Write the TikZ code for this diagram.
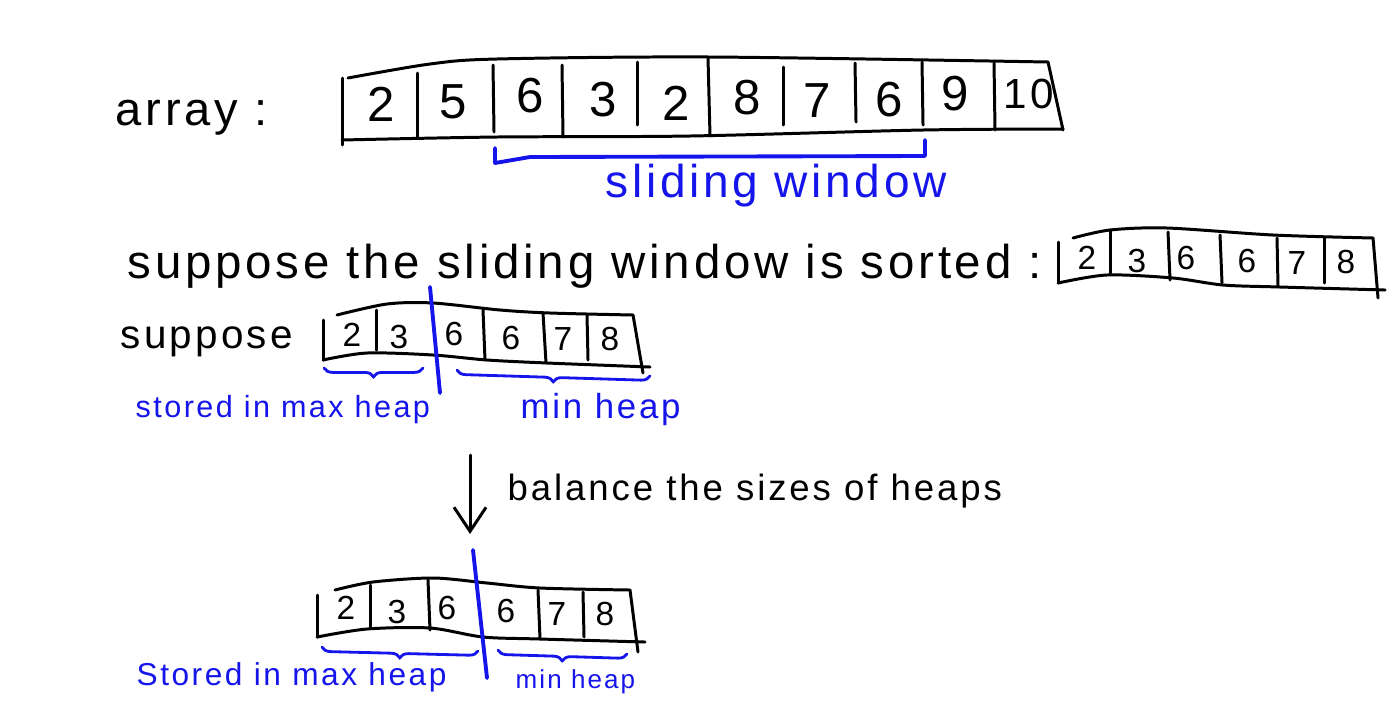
\documentclass[tikz,border=0pt]{standalone}
\usepackage{fontspec}
\setmainfont{Liberation Sans}[LetterSpace=8]
\usetikzlibrary{arrows.meta, decorations.pathreplacing}

\definecolor{penblue}{RGB}{20,20,235}

\tikzset{
  ink/.style={line width=0.85pt, line cap=round, line join=round},
  blueink/.style={penblue, line width=1.1pt, line cap=round, line join=round},
  hand/.style={font=\fontsize{#1}{#1}\selectfont, inner sep=0pt},
  underbrace/.style={penblue, line width=0.8pt, line cap=round, decorate,
    decoration={brace, mirror, amplitude=2.5pt}},
}

\begin{document}
\begin{tikzpicture}[x=0.1mm, y=-0.1mm]
    %\draw[help lines, step=100] (0, 0) grid (1400, 712);
    \useasboundingbox (0, 0) rectangle (1400, 712);

    % the whole array
    \node[hand=13.4, anchor=base west] (arraylabel) at (115, 125) {array :};
    \draw[ink] (342, 78) -- (342, 145);
    \draw[ink] plot[smooth] coordinates {(348, 78) (430, 64) (497, 59) (710, 57) (1048, 62)};
    \draw[ink] (1048, 62) -- (1063, 130);
    \draw[ink] plot[smooth] coordinates {(342, 140) (497, 137) (690, 136) (923, 130) (1063, 129)};
    \draw[ink] (417, 73) -- (417, 138);
    \draw[ink] (493, 65) -- (494, 132);
    \draw[ink] (562, 65) -- (563, 137);
    \draw[ink] (637, 62) -- (637, 125);
    \draw[ink] (708, 58) -- (710, 136);
    \draw[ink] (783, 67) -- (783, 125);
    \draw[ink] (855, 63) -- (856, 122);
    \draw[ink] (922, 62) -- (923, 125);
    \draw[ink] (994, 63) -- (995, 130);

    \node[hand=14] (a1) at (381, 104) {2};
    \node[hand=14] (a2) at (453, 102) {5};
    \node[hand=14] (a3) at (530, 96) {6};
    \node[hand=14] (a4) at (603, 100) {3};
    \node[hand=14] (a5) at (676, 103) {2};
    \node[hand=14] (a6) at (747, 98) {8};
    \node[hand=14] (a7) at (817, 101) {7};
    \node[hand=14] (a8) at (889, 100) {6};
    \node[hand=14] (a9) at (955, 94) {9};
    \node[hand=12] (a10) at (1029, 94) {10};

    \draw[blueink] (495, 148) -- (495, 163) -- (530, 157) -- (925, 156) -- (925, 140);
    \node[hand=13.1, penblue, anchor=base west] (windowlabel) at (605, 197) {sliding window};

    % sorted window
    \node[hand=13.5, anchor=base west] (sortedlabel) at (127, 278) {suppose the sliding window is sorted :};
    \draw[ink] (1058, 242) -- (1058, 283);
    \draw[ink] plot[smooth] coordinates {(1073, 238) (1110, 230) (1167, 228) (1273, 235) (1373, 238)};
    \draw[ink] (1373, 238) -- (1378, 298);
    \draw[ink] plot[smooth] coordinates {(1058, 283) (1107, 275) (1173, 278) (1223, 285) (1280, 287) (1385, 290)};
    \draw[ink] (1110, 230) -- (1110, 273);
    \draw[ink] (1168, 232) -- (1170, 280);
    \draw[ink] (1220, 235) -- (1222, 283);
    \draw[ink] (1277, 238) -- (1278, 287);
    \draw[ink] (1324, 238) -- (1324, 283);

    \node[hand=9.5] (s1) at (1087, 258) {2};
    \node[hand=9.5] (s2) at (1137, 261) {3};
    \node[hand=9.5] (s3) at (1186, 258) {6};
    \node[hand=9.5] (s4) at (1247, 261) {6};
    \node[hand=9.5] (s5) at (1297, 263) {7};
    \node[hand=9.5] (s6) at (1346, 262) {8};

    % first split
    \node[hand=11.5, anchor=base west] (supposelabel) at (120, 348) {suppose};
    \draw[ink] (323, 320) -- (323, 360);
    \draw[ink] plot[smooth] coordinates {(337, 315) (387, 304) (433, 303) (500, 310) (550, 313) (633, 315)};
    \draw[ink] (633, 315) -- (643, 373);
    \draw[ink] plot[smooth] coordinates {(323, 360) (367, 353) (433, 355) (487, 360) (547, 363) (650, 367)};
    \draw[ink] (376, 310) -- (376, 350);
    \draw[ink] (483, 310) -- (485, 360);
    \draw[ink] (543, 313) -- (546, 363);
    \draw[ink] (587, 315) -- (588, 360);
    \draw[blueink] (430, 287) -- (440, 393);

    \node[hand=9.5] (b1) at (352, 335) {2};
    \node[hand=9.5] (b2) at (399, 337) {3};
    \node[hand=9.5] (b3) at (454, 334) {6};
    \node[hand=9.5] (b4) at (511, 338) {6};
    \node[hand=9.5] (b5) at (563, 339) {7};
    \node[hand=9.5] (b6) at (610, 339) {8};

    \draw[underbrace] (324, 368) -- (423, 368);
    \draw[underbrace] (457, 370) -- (650, 376);
    \node[hand=8.7, penblue, anchor=base west] (maxlabel) at (135, 417) {stored in max heap};
    \node[hand=9.9, penblue, anchor=base west] (minlabel) at (520, 418) {min heap};

    % balancing step
    \coordinate (arrtop) at (470, 455);
    \coordinate (arrtip) at (470, 534);
    \draw[ink, -{Straight Barb[length=2.4mm, width=3.2mm]}] (arrtop) -- (arrtip);
    \node[hand=10.4, anchor=base west] (balancelabel) at (507, 500) {balance the sizes of heaps};

    % balanced split
    \draw[ink] (317, 595) -- (317, 637);
    \draw[ink] plot[smooth] coordinates {(335, 590) (373, 582) (433, 578) (487, 583) (540, 588) (630, 590)};
    \draw[ink] (630, 590) -- (638, 652);
    \draw[ink] plot[smooth] coordinates {(317, 637) (367, 629) (430, 628) (483, 637) (540, 639) (645, 642)};
    \draw[ink] (370, 585) -- (370, 627);
    \draw[ink] (428, 580) -- (430, 630);
    \draw[ink] (538, 590) -- (540, 639);
    \draw[ink] (583, 592) -- (584, 637);
    \draw[blueink] (473, 550) -- (487, 678);

    \node[hand=9.5] (c1) at (346, 608) {2};
    \node[hand=9.5] (c2) at (397, 612) {3};
    \node[hand=9.5] (c3) at (447, 608) {6};
    \node[hand=9.5] (c4) at (506, 611) {6};
    \node[hand=9.5] (c5) at (557, 614) {7};
    \node[hand=9.5] (c6) at (605, 614) {8};

    \draw[underbrace] (322, 647) -- (478, 651);
    \draw[underbrace] (498, 650) -- (627, 654);
    \node[hand=9, penblue, anchor=base west] (maxlabel2) at (136, 685) {Stored in max heap};
    \node[hand=7.4, penblue, anchor=base west] (minlabel2) at (515, 688) {min heap};

\end{tikzpicture}
\end{document}
